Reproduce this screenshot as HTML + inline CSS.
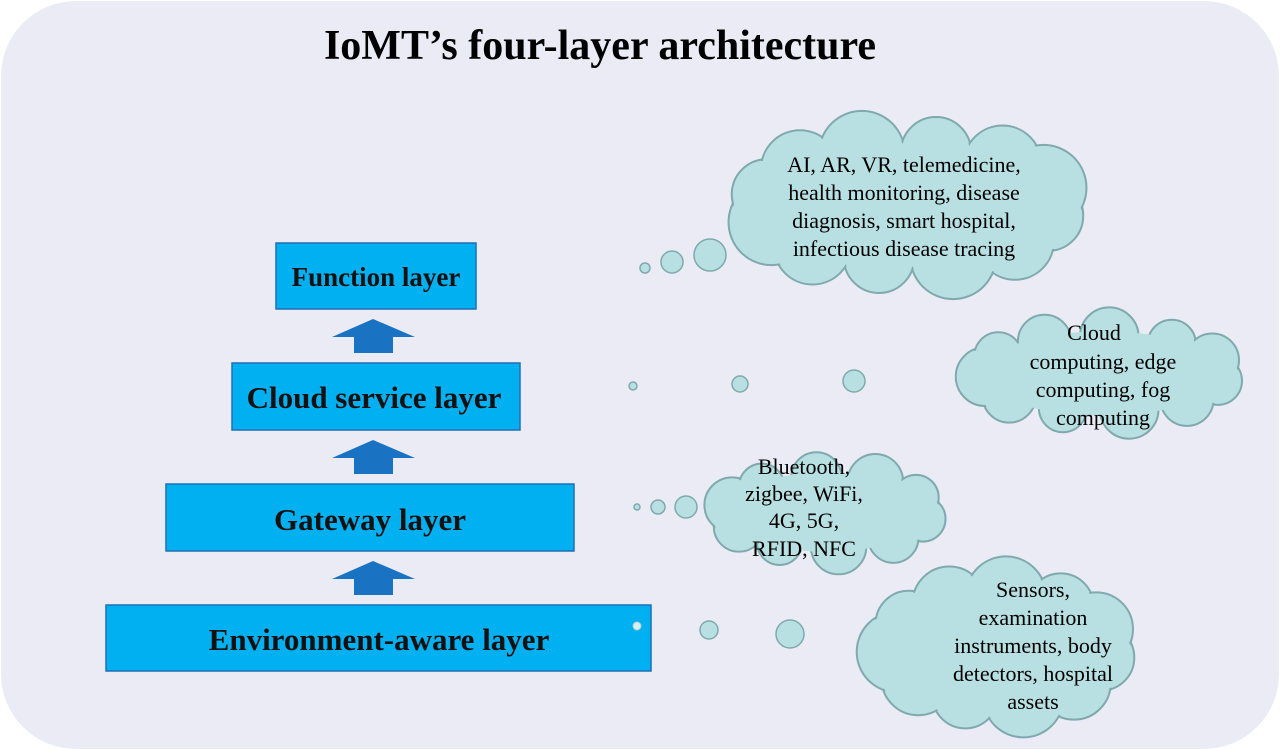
<!DOCTYPE html>
<html><head><meta charset="utf-8">
<style>
html,body{margin:0;padding:0;background:#fff;}
svg{display:block;}
text{font-family:"Liberation Serif",serif;}
</style></head>
<body>
<svg id="s" width="1280" height="750" viewBox="0 0 1280 750" xmlns="http://www.w3.org/2000/svg">
<rect x="0" y="0" width="1280" height="750" fill="#ffffff"/>
<rect x="1" y="1" width="1278" height="748" rx="75" ry="75" fill="#ebebf6"/>
<text x="600" y="59" text-anchor="middle" font-size="42" font-weight="bold" fill="#000">IoMT’s four-layer architecture</text>

<g id="clouds"></g>

<g fill="#00b0f0" stroke="#1f6fb5" stroke-width="1.5">
<rect x="276" y="243" width="200" height="66"/>
<rect x="232" y="363" width="288" height="67"/>
<rect x="166" y="484" width="408" height="67"/>
<rect x="106" y="605" width="545" height="66"/>
</g>
<g font-weight="bold" fill="#111" text-anchor="middle">
<text x="376" y="286" font-size="27">Function layer</text>
<text x="374" y="408" font-size="31">Cloud service layer</text>
<text x="370" y="530" font-size="31">Gateway layer</text>
<text x="379" y="650" font-size="31">Environment-aware layer</text>
</g>
<g fill="#1a72c2">
<polygon points="332,337 373,319 415,337 393,337 393,353 354,353 354,337"/>
<polygon points="332,458 373,440 415,458 393,458 393,474 354,474 354,458"/>
<polygon points="332,579 373,561 415,579 393,579 393,595 354,595 354,579"/>
</g>
<circle cx="637" cy="626" r="4" fill="#d8eef0" stroke="#a9cfd2"/>

<g fill="#000" font-size="22" text-anchor="middle">
<text x="904" y="172">AI, AR, VR, telemedicine,</text>
<text x="904" y="200">health monitoring, disease</text>
<text x="904" y="228">diagnosis, smart hospital,</text>
<text x="904" y="256">infectious disease tracing</text>
<text x="1094" y="340">Cloud</text>
<text x="1103" y="369">computing, edge</text>
<text x="1103" y="397">computing, fog</text>
<text x="1103" y="425">computing</text>
<text x="804" y="474">Bluetooth,</text>
<text x="804" y="501">zigbee, WiFi,</text>
<text x="804" y="528">4G, 5G,</text>
<text x="804" y="556">RFID, NFC</text>
<text x="1033" y="597">Sensors,</text>
<text x="1033" y="625">examination</text>
<text x="1033" y="653">instruments, body</text>
<text x="1033" y="681">detectors, hospital</text>
<text x="1033" y="709">assets</text>
</g>
</svg>
<script>
(function(){
var NS="http://www.w3.org/2000/svg";
var g=document.getElementById("clouds");
var F="#b8e0e3",S="#7fa9ad";
function el(t,a,p){var e=document.createElementNS(NS,t);for(var k in a)e.setAttribute(k,a[k]);p.appendChild(e);return e;}
function cloud(x1,y1,x2,y2,n){
 var cx=(x1+x2)/2,cy=(y1+y2)/2,rx=(x2-x1)/2,ry=(y2-y1)/2,b=0.42*ry;
 var cs=[];
 for(var i=0;i<n;i++){var a=i*2*Math.PI/n+0.2;cs.push([cx+(rx-b)*Math.cos(a),cy+(ry-b)*Math.sin(a),b*(0.9+0.2*((i*7)%3)/2)]);}
 var gs=el("g",{},g),gf=el("g",{},g);
 cs.forEach(function(c){el("circle",{cx:c[0],cy:c[1],r:c[2],fill:F,stroke:S,"stroke-width":2},gs);});
 cs.forEach(function(c){el("circle",{cx:c[0],cy:c[1],r:c[2]-1.5,fill:F},gf);});
 el("ellipse",{cx:cx,cy:cy,rx:rx-b*0.9,ry:ry-b*0.8,fill:F},gf);
}
cloud(725,112,1090,298,12);
cloud(958,310,1247,437,11);
cloud(705,452,950,572,10);
cloud(860,560,1140,735,11);
[[645,268,5],[672,262,11],[710,255,16],[633,386,4],[740,384,8],[854,381,11],[637,507,3],[658,507,7],[686,507,11],[709,630,9],[790,634,14]].forEach(function(c){
 el("circle",{cx:c[0],cy:c[1],r:c[2],fill:F,stroke:S,"stroke-width":1.5},g);
});
})();
</script>
</body></html>
